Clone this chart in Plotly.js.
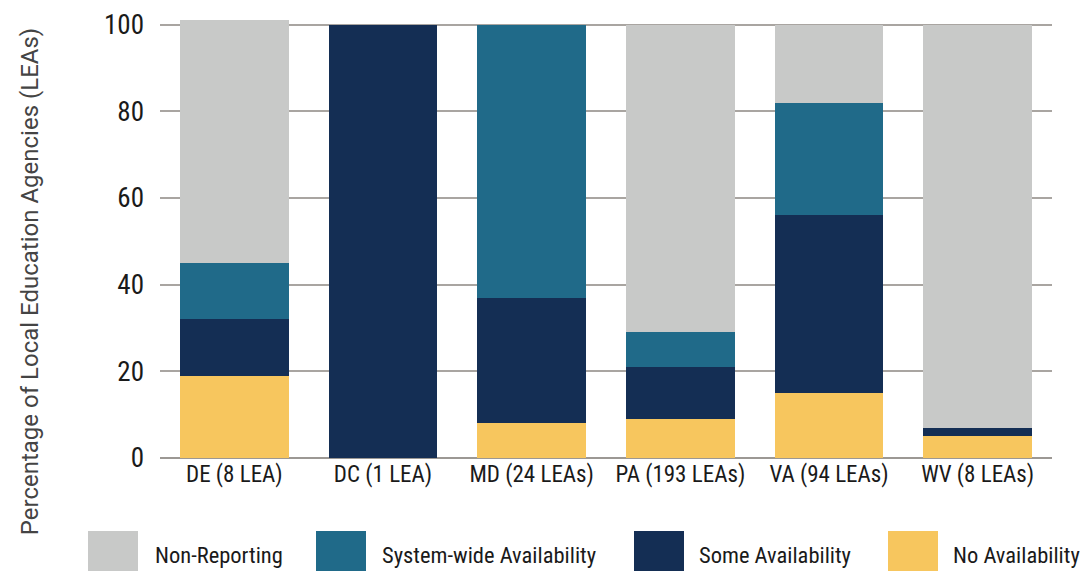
<!DOCTYPE html>
<html>
<head>
<meta charset="utf-8">
<script src="https://cdn.plot.ly/plotly-3.0.1.min.js"></script>
<style>
html,body{margin:0;padding:0;background:#fff;}
#chart{width:1080px;height:571px;}
</style>
</head>
<body>
<div id="chart"></div>
<script>
const categories = ["DE (8 LEA)", "DC (1 LEA)", "MD (24 LEAs)", "PA (193 LEAs)", "VA (94 LEAs)", "WV (8 LEAs)"];
const noAvailability = [19, 0, 8, 9, 15, 5];
const someAvailability = [13, 100, 29, 12, 41, 2];
const systemWide = [13, 0, 63, 8, 26, 0];
const nonReporting = [56, 0, 0, 71, 18, 93];
const seriesNames = ["Non-Reporting", "System-wide Availability", "Some Availability", "No Availability"];
const seriesColors = ["#c8c9c8", "#206a89", "#142e54", "#f7c65e"];
const yTicks = [0, 20, 40, 60, 80, 100];

const narrow = "'Roboto Condensed', 'Liberation Sans', sans-serif";
const W = 1080, H = 571;
const L = 160, R = 1052, T = 17.5, B = 458;
const pw = R - L, ph = B - T;
const px = x => (x - L) / pw;
const py = y => (B - y) / ph;

const mk = (vals, i) => ({
  type: 'bar', x: categories, y: vals, name: seriesNames[i],
  marker: {color: seriesColors[i], line: {width: 0}}, hoverinfo: 'x+y+name'
});
const traces = [mk(noAvailability, 3), mk(someAvailability, 2), mk(systemWide, 1), mk(nonReporting, 0)];

const shapes = [], annotations = [];
const legendX = [88, 316, 634, 888];
const legendTextX = [153, 380, 697, 951];
seriesNames.forEach((n, i) => {
  shapes.push({type: 'rect', xref: 'paper', yref: 'paper', x0: px(legendX[i]), x1: px(legendX[i] + 50),
    y0: py(531), y1: py(572), fillcolor: seriesColors[i], line: {width: 0}, layer: 'above'});
  annotations.push({xref: 'paper', yref: 'paper', x: px(legendTextX[i]), y: py(555), xanchor: 'left', yanchor: 'middle',
    text: n, showarrow: false, font: {family: narrow, size: 22.5, color: '#1a1a1a'}});
});
annotations.push({xref: 'paper', yref: 'paper', x: px(30), y: py(282), xanchor: 'center', yanchor: 'middle',
  textangle: -90, text: 'Percentage of Local Education Agencies (LEAs)', showarrow: false,
  font: {family: 'Roboto, sans-serif', size: 24, color: '#444'}});

const layout = {
  width: W, height: H, barmode: 'stack', bargap: 0.27, showlegend: false,
  margin: {l: L, r: W - R, t: T, b: H - B, pad: 0},
  paper_bgcolor: '#fff', plot_bgcolor: '#fff',
  xaxis: {type: 'category', showgrid: false, showline: false, ticks: '', zeroline: false, tickangle: 0,
    tickfont: {family: narrow, size: 23, color: '#1a1a1a'}},
  yaxis: {range: [0, 101.5], tickvals: yTicks, ticktext: yTicks.map(String), showgrid: true,
    gridcolor: '#a9a5a1', gridwidth: 2, zeroline: true, zerolinecolor: '#9c9894', zerolinewidth: 2,
    ticks: '', ticklabelstandoff: 15, showline: false,
    tickfont: {family: narrow, size: 27, color: '#1a1a1a'}},
  shapes: shapes, annotations: annotations
};
Plotly.newPlot('chart', traces, layout, {displayModeBar: false, staticPlot: true});
</script>
</body>
</html>
